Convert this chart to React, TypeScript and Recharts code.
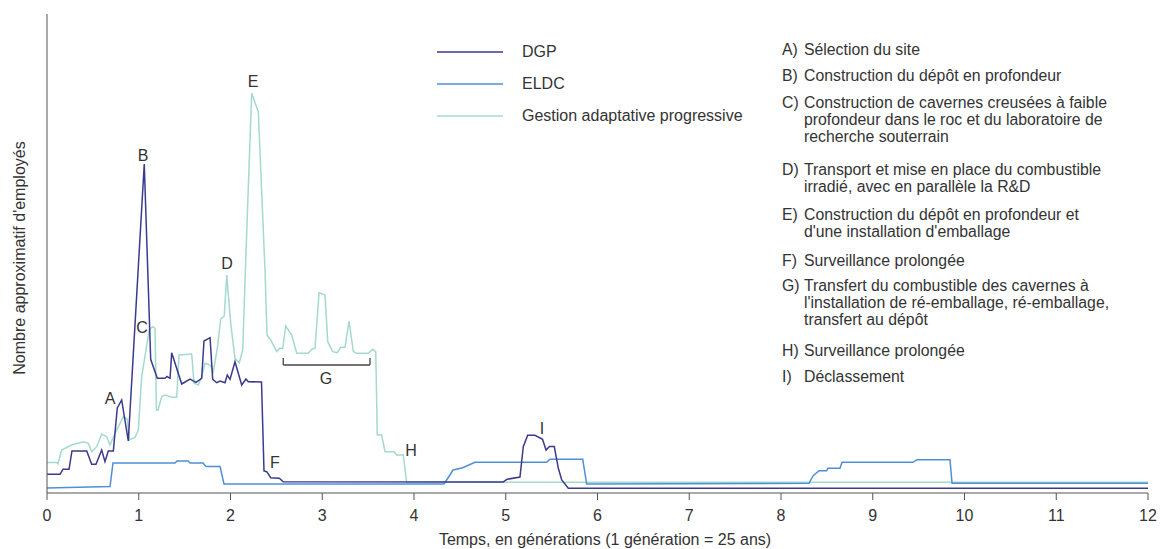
import { LineChart, Line, XAxis, YAxis, ReferenceDot, ReferenceLine, Legend } from 'recharts'

const FONT = '"Liberation Sans", Arial, sans-serif'
const TEXT = '#333'

// generations on the x axis
const generations = [0, 1, 2, 3, 4, 5, 6, 7, 8, 9, 10, 11, 12]

// [generation, relative number of employees]
const dgp: [number, number][] = [
  [0, 18.7], [0.142, 18.7], [0.174, 23.7], [0.24, 23.7], [0.272, 42], [0.433, 42],
  [0.487, 28.7], [0.534, 28.7], [0.596, 43], [0.632, 31.3], [0.668, 42], [0.723, 42],
  [0.766, 85], [0.814, 93], [0.886, 52], [1.06, 329], [1.13, 133.7], [1.202, 114.7],
  [1.286, 114.7], [1.308, 116.5], [1.341, 114.7], [1.359, 140.3], [1.468, 109], [1.559, 114],
  [1.624, 110.7], [1.686, 114.7], [1.711, 152], [1.777, 155.3], [1.806, 113.7], [1.85, 110.3],
  [1.886, 112], [1.94, 110.3], [1.965, 118], [1.995, 113.7], [2.049, 131.3], [2.122, 108],
  [2.169, 114], [2.194, 111.3], [2.338, 111], [2.365, 22], [2.395, 21.3], [2.438, 15.3],
  [2.532, 14.7], [2.575, 11.3], [4.97, 11], [5.014, 13.7], [5.155, 16], [5.191, 46.3],
  [5.239, 57.7], [5.319, 57.7], [5.401, 53.7], [5.439, 43], [5.477, 46.5], [5.529, 46.5],
  [5.573, 24.7], [5.61, 13], [5.682, 4.7], [12, 4.7]
]

const eldc: [number, number][] = [
  [0, 5], [0.687, 6.5], [0.719, 30], [1.395, 30], [1.417, 32], [1.537, 32], [1.559, 30],
  [1.7, 30], [1.733, 26.5], [1.886, 26.5], [1.929, 9], [4.327, 9], [4.371, 15], [4.425, 23],
  [4.523, 25], [4.665, 30.7], [5.446, 30.7], [5.482, 33.7], [5.839, 33.7], [5.882, 9],
  [8.305, 9.7], [8.349, 17], [8.414, 22.3], [8.498, 22.3], [8.512, 24.7], [8.643, 24.7],
  [8.665, 30.7], [9.439, 30.7], [9.482, 33.3], [9.842, 33.3], [9.864, 9.7], [12, 9.7]
]

const gestion: [number, number][] = [
  [0, 30.5], [0.106, 30.5], [0.12, 29], [0.16, 43], [0.269, 48], [0.396, 51.3], [0.45, 49.7],
  [0.487, 41.3], [0.542, 46.3], [0.596, 59], [0.651, 56.3], [0.687, 48], [0.741, 59.7],
  [0.796, 69.7], [0.832, 76.3], [0.875, 73.7], [0.897, 53], [0.959, 55.5], [0.995, 63],
  [1.032, 116.3], [1.115, 163.7], [1.152, 166.3], [1.177, 164.7], [1.193, 83], [1.21, 83],
  [1.25, 96.3], [1.286, 98], [1.359, 95.7], [1.414, 95.7], [1.439, 138], [1.577, 139],
  [1.602, 109.7], [1.649, 108], [1.686, 116.3], [1.722, 129.7], [1.777, 128], [1.813, 121.3],
  [1.856, 144.7], [1.893, 173.7], [1.932, 177], [1.959, 218], [2.002, 169.7], [2.049, 134.7],
  [2.096, 130.3], [2.133, 143], [2.166, 233], [2.231, 399.7], [2.303, 381.3], [2.376, 223],
  [2.398, 158], [2.438, 153], [2.504, 141.3], [2.532, 144.7], [2.569, 144.7], [2.602, 167],
  [2.667, 158], [2.722, 139.7], [2.848, 139.7], [2.885, 143.7], [2.921, 144.7], [2.965, 200.3],
  [3.03, 198], [3.06, 151.3], [3.114, 141.3], [3.164, 140.3], [3.201, 145.7], [3.248, 145.7],
  [3.292, 172], [3.338, 142], [3.368, 139.7], [3.502, 139.7], [3.55, 143.7], [3.583, 141.3],
  [3.6, 58], [3.648, 58], [3.684, 41.3], [3.782, 41.3], [3.811, 38], [3.883, 38],
  [3.92, 10.7], [12, 10.7]
]

const series = [
  { name: 'DGP', color: '#3b3a8c', points: dgp },
  { name: 'ELDC', color: '#4f8fd8', points: eldc },
  { name: 'Gestion adaptative progressive', color: '#a3dacd', points: gestion }
]

// letters placed on the curves
const phaseMarks = [
  { letter: 'A', x: 0.687, y: 95 },
  { letter: 'B', x: 1.046, y: 338 },
  { letter: 'C', x: 1.035, y: 166 },
  { letter: 'D', x: 1.962, y: 230 },
  { letter: 'E', x: 2.245, y: 412 },
  { letter: 'F', x: 2.485, y: 31 },
  { letter: 'G', x: 3.041, y: 115 },
  { letter: 'H', x: 3.967, y: 43 },
  { letter: 'I', x: 5.395, y: 65 }
]

const phaseNotes = [
  { letter: 'A)', top: 41, lines: ['Sélection du site'] },
  { letter: 'B)', top: 67, lines: ['Construction du dépôt en profondeur'] },
  { letter: 'C)', top: 94, lines: ['Construction de cavernes creusées à faible', 'profondeur dans le roc et du laboratoire de', 'recherche souterrain'] },
  { letter: 'D)', top: 161, lines: ['Transport et mise en place du combustible', 'irradié, avec en parallèle la R&D'] },
  { letter: 'E)', top: 206, lines: ['Construction du dépôt en profondeur et', "d'une installation d'emballage"] },
  { letter: 'F)', top: 252, lines: ['Surveillance prolongée'] },
  { letter: 'G)', top: 277, lines: ['Transfert du combustible des cavernes à', "l'installation de ré-emballage, ré-emballage,", 'transfert au dépôt'] },
  { letter: 'H)', top: 342, lines: ['Surveillance prolongée'] },
  { letter: 'I)', top: 368, lines: ['Déclassement'] }
]

const bracketG = { from: 2.575, to: 3.52, y: 128, tick: 135 }

const renderLegend = () => (
  <div style={{ fontFamily: FONT }}>
    {series.map(s => (
      <div key={s.name} style={{ display: 'flex', alignItems: 'center', height: 32 }}>
        <svg width={66} height={4}>
          <line x1={0} x2={66} y1={2} y2={2} stroke={s.color} strokeWidth={1.5} />
        </svg>
        <span style={{ marginLeft: 19, fontSize: 16, color: TEXT }}>{s.name}</span>
      </div>
    ))}
  </div>
)

export default function App () {
  return (
    <div style={{ position: 'absolute', left: 0, top: 0, width: 1160, height: 549, fontFamily: FONT }}>
      <LineChart width={1160} height={549} margin={{ top: 14, right: 12, bottom: 26, left: 0 }}>
        <XAxis
          type='number'
          dataKey='x'
          domain={[0, 12]}
          ticks={generations}
          interval={0}
          tickSize={7}
          tickMargin={10}
          height={30}
          stroke='#555'
          tick={{ fontSize: 16, fill: TEXT, fontFamily: FONT }}
          label={{
            content: () => (
              <text x={605} y={545} textAnchor='middle' fontSize={16} fill={TEXT} fontFamily={FONT}>
                Temps, en générations (1 génération = 25 ans)
              </text>
            )
          }}
        />
        <YAxis
          type='number'
          dataKey='y'
          domain={[0, 479]}
          width={47}
          tick={false}
          tickLine={false}
          axisLine={{ stroke: '#555' }}
          label={{
            content: () => (
              <text x={25} y={258} transform='rotate(-90 25 258)' textAnchor='middle' fontSize={16} fill={TEXT} fontFamily={FONT}>
                Nombre approximatif d'employés
              </text>
            )
          }}
        />
        <Legend
          layout='vertical'
          align='center'
          verticalAlign='middle'
          content={renderLegend}
          wrapperStyle={{ left: 437, top: 36, width: 330, height: 96 }}
        />
        {[...series].reverse().map(s => (
          <Line
            key={s.name}
            name={s.name}
            data={s.points.map(([x, y]) => ({ x, y }))}
            dataKey='y'
            type='linear'
            stroke={s.color}
            strokeWidth={1.5}
            dot={false}
            activeDot={false}
            isAnimationActive={false}
          />
        ))}
        <ReferenceLine segment={[{ x: bracketG.from, y: bracketG.y }, { x: bracketG.to, y: bracketG.y }]} stroke='#444' strokeWidth={1.3} />
        <ReferenceLine segment={[{ x: bracketG.from, y: bracketG.y }, { x: bracketG.from, y: bracketG.tick }]} stroke='#444' strokeWidth={1.3} />
        <ReferenceLine segment={[{ x: bracketG.to, y: bracketG.y }, { x: bracketG.to, y: bracketG.tick }]} stroke='#444' strokeWidth={1.3} />
        {phaseMarks.map(p => (
          <ReferenceDot
            key={p.letter}
            x={p.x}
            y={p.y}
            r={0}
            fill='none'
            stroke='none'
            label={{ value: p.letter, position: 'center', fill: TEXT, fontSize: 16, fontFamily: FONT }}
          />
        ))}
      </LineChart>
      {phaseNotes.map(n => (
        <div key={n.letter} style={{ position: 'absolute', left: 782, top: n.top, fontSize: 15.8, lineHeight: '17px', color: TEXT }}>
          <span style={{ position: 'absolute', left: 0 }}>{n.letter}</span>
          <div style={{ marginLeft: 22, whiteSpace: 'nowrap' }}>
            {n.lines.map((l, i) => <div key={i}>{l}</div>)}
          </div>
        </div>
      ))}
    </div>
  )
}
